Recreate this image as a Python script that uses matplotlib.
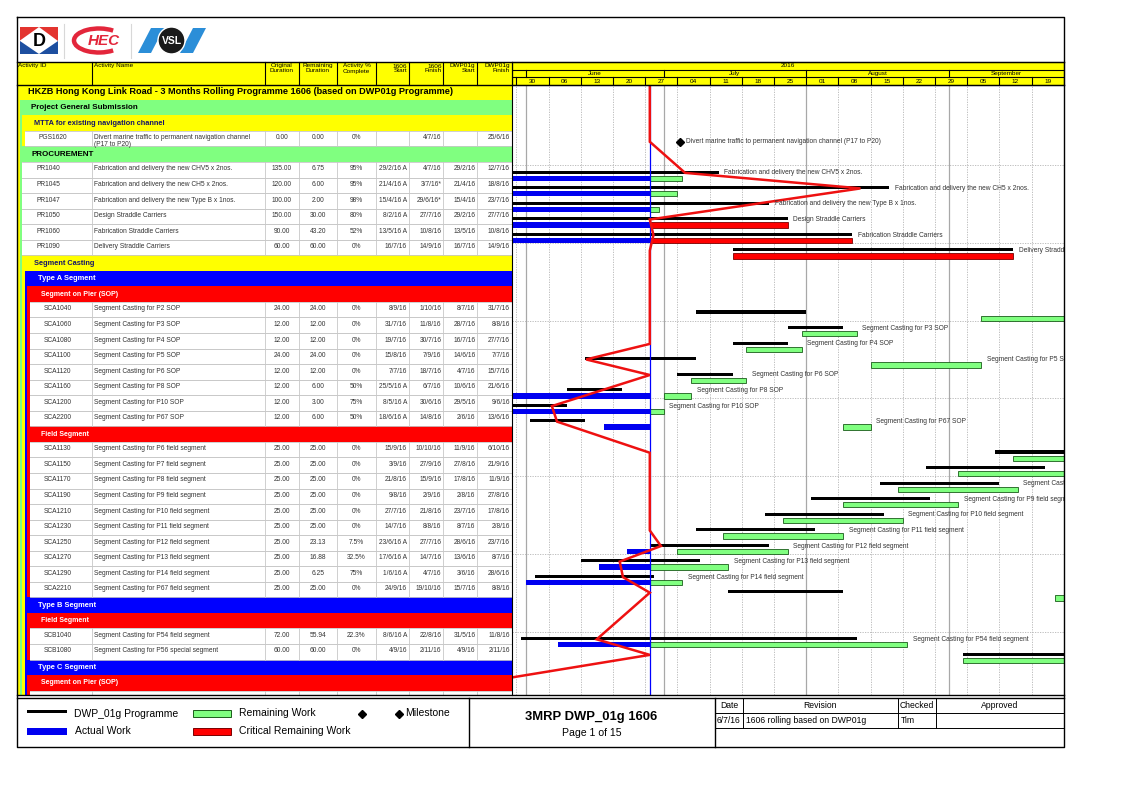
import textwrap
import pandas as pd
import matplotlib
matplotlib.use('Agg')
import matplotlib.pyplot as plt
import matplotlib.dates as mdates
from matplotlib.patches import Rectangle, Polygon, Circle, Arc

plt.rcParams['font.family'] = ['Liberation Sans', 'DejaVu Sans']

W, H = 1123, 793

# ---------------- data ----------------
data_date = '28/6/16'

# WBS bands: first row, last row covered, outline level, title
group_rows = [0, 1, 2, 4, 11, 12, 13, 22, 33, 34, 37, 38]
group_last = [39, 3, 3, 39, 39, 32, 21, 32, 36, 36, 39, 39]
group_levels = [0, 1, 2, 1, 2, 3, 4, 4, 3, 4, 3, 4]
group_names = ['HKZB Hong Kong Link Road - 3 Months Rolling Programme 1606 (based on DWP01g Programme)',
               'Project General Submission', 'MTTA for existing navigation channel', 'PROCUREMENT',
               'Segment Casting', 'Type A Segment', 'Segment on Pier (SOP)', 'Field Segment',
               'Type B Segment', 'Field Segment', 'Type C Segment', 'Segment on Pier (SOP)']
next_page_row = 39

act_rows = [3, 5, 6, 7, 8, 9, 10, 14, 15, 16, 17, 18, 19, 20, 21,
            23, 24, 25, 26, 27, 28, 29, 30, 31, 32, 35, 36]
act_ids = ['PGS1620', 'PR1040', 'PR1045', 'PR1047', 'PR1050', 'PR1060', 'PR1090',
           'SCA1040', 'SCA1060', 'SCA1080', 'SCA1100', 'SCA1120', 'SCA1160', 'SCA1200', 'SCA2200',
           'SCA1130', 'SCA1150', 'SCA1170', 'SCA1190', 'SCA1210', 'SCA1230', 'SCA1250', 'SCA1270',
           'SCA1290', 'SCA2210', 'SCB1040', 'SCB1080']
act_names = ['Divert marine traffic to permanent navigation channel (P17 to P20)',
             'Fabrication and delivery the new CHV5 x 2nos.',
             'Fabrication and delivery the new CH5 x 2nos.',
             'Fabrication and delivery the new Type B x 1nos.',
             'Design Straddle Carriers', 'Fabrication Straddle Carriers', 'Delivery Straddle Carriers',
             'Segment Casting for P2 SOP', 'Segment Casting for P3 SOP', 'Segment Casting for P4 SOP',
             'Segment Casting for P5 SOP', 'Segment Casting for P6 SOP', 'Segment Casting for P8 SOP',
             'Segment Casting for P10 SOP', 'Segment Casting for P67 SOP',
             'Segment Casting for P6 field segment', 'Segment Casting for P7 field segment',
             'Segment Casting for P8 field segment', 'Segment Casting for P9 field segment',
             'Segment Casting for P10 field segment', 'Segment Casting for P11 field segment',
             'Segment Casting for P12 field segment', 'Segment Casting for P13 field segment',
             'Segment Casting for P14 field segment', 'Segment Casting for P67 field segment',
             'Segment Casting for P54 field segment', 'Segment Casting for P56 special segment']
orig_dur = [0, 135, 120, 100, 150, 90, 60, 24, 12, 12, 24, 12, 12, 12, 12,
            25, 25, 25, 25, 25, 25, 25, 25, 25, 25, 72, 60]
rem_dur = [0, 6.75, 6, 2, 30, 43.2, 60, 24, 12, 12, 24, 12, 6, 3, 6,
           25, 25, 25, 25, 25, 25, 23.13, 16.88, 6.25, 25, 55.94, 60]
pct_complete = [0, 95, 95, 98, 80, 52, 0, 0, 0, 0, 0, 0, 50, 75, 50,
                0, 0, 0, 0, 0, 0, 7.5, 32.5, 75, 0, 22.3, 0]
start_1606 = ['', '29/2/16 A', '21/4/16 A', '15/4/16 A', '8/2/16 A', '13/5/16 A', '16/7/16',
              '8/9/16', '31/7/16', '19/7/16', '15/8/16', '7/7/16', '25/5/16 A', '8/5/16 A', '18/6/16 A',
              '15/9/16', '3/9/16', '21/8/16', '9/8/16', '27/7/16', '14/7/16', '23/6/16 A', '17/6/16 A',
              '1/6/16 A', '24/9/16', '8/6/16 A', '4/9/16']
finish_1606 = ['4/7/16', '4/7/16', '3/7/16*', '29/6/16*', '27/7/16', '10/8/16', '14/9/16',
               '1/10/16', '11/8/16', '30/7/16', '7/9/16', '18/7/16', '6/7/16', '30/6/16', '14/8/16',
               '10/10/16', '27/9/16', '15/9/16', '2/9/16', '21/8/16', '8/8/16', '27/7/16', '14/7/16',
               '4/7/16', '19/10/16', '22/8/16', '2/11/16']
start_dwp = ['', '29/2/16', '21/4/16', '15/4/16', '29/2/16', '13/5/16', '16/7/16',
             '8/7/16', '28/7/16', '16/7/16', '14/6/16', '4/7/16', '10/6/16', '29/5/16', '2/6/16',
             '11/9/16', '27/8/16', '17/8/16', '2/8/16', '23/7/16', '8/7/16', '28/6/16', '13/6/16',
             '3/6/16', '15/7/16', '31/5/16', '4/9/16']
finish_dwp = ['25/6/16', '12/7/16', '18/8/16', '23/7/16', '27/7/16', '10/8/16', '14/9/16',
              '31/7/16', '8/8/16', '27/7/16', '7/7/16', '15/7/16', '21/6/16', '9/6/16', '13/6/16',
              '6/10/16', '21/9/16', '11/9/16', '27/8/16', '17/8/16', '2/8/16', '23/7/16', '8/7/16',
              '28/6/16', '8/8/16', '11/8/16', '2/11/16']
milestones = ['PGS1620']
critical = ['PR1050', 'PR1060', 'PR1090']
resume_dates = {'SCA1160': '1/7/16', 'SCA2200': '9/8/16', 'SCA1250': '4/7/16'}

# progress line vertices
prog_rows = [3, 5, 6, 8, 9, 10, 16, 17, 18, 20, 21, 23, 28, 29, 30, 31, 32, 35, 36, 39]
prog_dates = ['2016-06-28', '2016-07-05 16:00', '2016-08-12 19:00', '2016-06-28', '2016-06-28 19:00',
              '2016-06-28', '2016-06-28', '2016-06-14 04:00', '2016-06-28', '2016-06-06 17:00',
              '2016-06-07 20:00', '2016-06-28', '2016-06-28', '2016-06-30 10:00', '2016-06-21 11:00',
              '2016-06-22 04:00', '2016-06-28', '2016-06-16 11:00', '2016-06-28', '2016-04-27']

col_headers = ['Activity ID', 'Activity Name', 'Original\nDuration', 'Remaining\nDuration',
               'Activity %\nComplete', '1606\nStart', '1606\nFinish', 'DWP01g\nStart', 'DWP01g\nFinish']


def day(s):
    s = s.replace(' A', '').rstrip('*')
    return mdates.date2num(pd.to_datetime(s, format='%d/%m/%y'))


# ---------------- layout ----------------
YELLOW, GREEN, BLUE, RED = '#ffff00', '#80ff80', '#0000ff', '#ff0000'
band_colors = [YELLOW, GREEN, YELLOW, BLUE, RED]
band_text = ['black', 'black', '#15156a', 'white', 'white']
band_size = [6.6, 5.8, 5.3, 5.4, 5.0]
TXT = '#333333'
fs = 4.8

fig = plt.figure(figsize=(W / 100, H / 100), dpi=100)


def px_axes(x0, y0, x1, y1):
    return fig.add_axes([x0 / W, 1 - y1 / H, (x1 - x0) / W, (y1 - y0) / H])


ROW_TOP, ROW_BOT = -0.45, 38.78

# table body
tab = px_axes(17, 85, 512, 695)
tab.set_xlim(17, 512)
tab.set_ylim(ROW_BOT, ROW_TOP)
tab.axis('off')

lx = lambda lvl: 17 + 2.6 * lvl
for r, last, lvl, name in sorted(zip(group_rows, group_last, group_levels, group_names), key=lambda t: t[2]):
    tab.add_patch(Rectangle((lx(lvl), r - 0.5), 512 - lx(lvl), last - r + 1,
                            fc=band_colors[lvl], ec='none', zorder=1 + lvl * 0.1))
for r, lvl, name in zip(group_rows, group_levels, group_names):
    tab.text(28 + 3.2 * lvl, r, name, fontsize=band_size[lvl], fontweight='bold',
             color=band_text[lvl], va='center', zorder=4)


def parent_level(r):
    return max(l for g, last, l in zip(group_rows, group_last, group_levels) if g <= r <= last)


col_bounds = [92, 265, 299, 337, 376, 409, 443, 477]
for r in act_rows + [next_page_row]:
    x0 = lx(parent_level(r) + 1)
    tab.add_patch(Rectangle((x0, r - 0.5), 512 - x0, 1, fc='white', ec='none', zorder=2))
    tab.plot([x0, 512], [r + 0.5, r + 0.5], color='#c8c8c8', lw=0.6, zorder=3)
    tab.plot([x0, 512], [r - 0.5, r - 0.5], color='#c8c8c8', lw=0.6, zorder=3)
    for cx in col_bounds:
        tab.plot([cx, cx], [r - 0.5, r + 0.5], color='#c8c8c8', lw=0.6, zorder=3)

for k, r in enumerate(act_rows):
    x0 = lx(parent_level(r) + 1)
    yy = r - 0.05
    name = textwrap.fill(act_names[k], 54)
    tab.text(x0 + 14, yy, act_ids[k], fontsize=fs, color=TXT, va='center', zorder=4)
    tab.text(94, yy + (0.18 if '\n' in name else 0), name, fontsize=fs, color=TXT,
             va='center', linespacing=1.0, zorder=4)
    tab.text(282, yy, f'{orig_dur[k]:.2f}', fontsize=fs, color=TXT, va='center', ha='center', zorder=4)
    tab.text(318, yy, f'{rem_dur[k]:.2f}', fontsize=fs, color=TXT, va='center', ha='center', zorder=4)
    tab.text(356.5, yy, f'{pct_complete[k]:g}%', fontsize=fs, color=TXT, va='center', ha='center', zorder=4)
    for cx, col in zip([407, 441.5, 475.5, 510], [start_1606, finish_1606, start_dwp, finish_dwp]):
        tab.text(cx, yy, col[k], fontsize=fs, color=TXT, va='center', ha='right', zorder=4)

# gantt
dd = day(data_date)
x_left, x_right = dd - 29.957, dd + 90.04
gan = px_axes(512, 85, 1064, 695)
gan.set_xlim(x_left, x_right)
gan.set_ylim(ROW_BOT, ROW_TOP)
gan.axis('off')

mondays = mdates.date2num(pd.date_range('2016-05-30', '2016-09-26', freq='W-MON'))
month_starts = mdates.date2num(pd.date_range('2016-06-01', '2016-09-01', freq='MS'))
for m in mondays:
    if m not in month_starts:
        gan.axvline(m, color='#b4b4b4', lw=0.6, ls=(0, (1.5, 1.5)), zorder=0)
for m in month_starts:
    gan.axvline(m, color='#a8a8a8', lw=0.9, zorder=0)
for r in range(4, 38, 5):
    gan.axhline(r + 0.7, color='#b4b4b4', lw=0.6, ls=(0, (1.5, 1.5)), zorder=0)

for k, r in enumerate(act_rows):
    fin = day(finish_1606[k]) + 1
    if act_ids[k] in milestones:
        end = fin - 0.5
        gan.plot(end, r + 0.2, marker='D', ms=3.6, color='black', zorder=5)
        off = 4.5
    else:
        bs, bf = day(start_dwp[k]), day(finish_dwp[k]) + 1
        gan.barh(r + 0.15, bf - bs, left=bs, height=0.2, color='black', zorder=2)
        cs = day(start_1606[k])
        rs = cs
        if start_1606[k].endswith('A'):
            gan.barh(r + 0.55, dd - cs, left=cs, height=0.34, color='#0000f0', zorder=2)
            rs = dd
        if act_ids[k] in resume_dates:
            rs = day(resume_dates[act_ids[k]])
        crit = act_ids[k] in critical
        gan.barh(r + 0.55, fin - rs, left=rs, height=0.34, color=RED if crit else GREEN,
                 edgecolor='#7a0000' if crit else '#1a5c1a', lw=0.6, zorder=2)
        end = max(bf, fin)
        off = 4
    t = gan.annotate(act_names[k], (end, r + 0.2), xytext=(off, 0), textcoords='offset points',
                     va='center', fontsize=fs, color=TXT, zorder=6)
    t.set_clip_box(gan.bbox)

gan.axvline(dd, color='#0000ff', lw=0.9, zorder=3)
px = [dd] + [mdates.date2num(pd.Timestamp(d)) for d in prog_dates]
py = [ROW_TOP] + [r + 0.2 for r in prog_rows]
gan.plot(px, py, color='#ee1111', lw=1.8, solid_joinstyle='miter', zorder=4)

# timescale header
tim = px_axes(512, 62, 1064, 85)
tim.set_xlim(x_left, x_right)
tim.set_ylim(0, 3)
tim.set_facecolor(YELLOW)
tim.set_xticks([])
tim.set_yticks([])
for s in tim.spines.values():
    s.set_color('black')
    s.set_linewidth(0.8)
tim.axhline(1, color='black', lw=0.8)
tim.axhline(2, color='black', lw=0.8)
tim.text((x_left + x_right) / 2, 2.5, '2016', fontsize=4.6, ha='center', va='center')
edges = [x_left] + list(month_starts) + [x_right]
for a, b, lab in zip(edges[:-1], edges[1:], ['May', 'June', 'July', 'August', 'September']):
    if b - a > 10:
        tim.text((a + b) / 2, 1.5, lab, fontsize=4.6, ha='center', va='center')
for m in month_starts:
    tim.plot([m, m], [1, 2], color='black', lw=0.8)
for m, d in zip(mondays, pd.date_range('2016-05-30', '2016-09-26', freq='W-MON')):
    tim.plot([m, m], [0, 1], color='black', lw=0.8)
    if m + 3.5 < x_right:
        tim.text(m + 3.5, 0.5, f'{d.day:02d}', fontsize=4.6, ha='center', va='center')

# page: header, logos, frame, footer
page = px_axes(0, 0, W, H)
page.set_xlim(0, W)
page.set_ylim(H, 0)
page.axis('off')
page.set_zorder(5)

page.add_patch(Rectangle((17, 62), 495, 23, fc=YELLOW, ec='none'))
for cx in col_bounds + [512]:
    page.plot([cx, cx], [62, 85], color='black', lw=0.8)
hdr_x = [18, 94, 282, 318, 356.5, 407, 441.5, 475.5, 510]
hdr_ha = ['left', 'left', 'center', 'center', 'center', 'right', 'right', 'right', 'right']
for x, ha, lab in zip(hdr_x, hdr_ha, col_headers):
    page.text(x, 63.5, lab, fontsize=4.6, ha=ha, va='top', linespacing=1.0, multialignment=ha)

page.plot([17, 1064], [62, 62], color='black', lw=1)
page.plot([17, 1064], [85, 85], color='black', lw=1)
page.plot([512, 512], [62, 695], color='black', lw=0.8)
page.plot([17, 1064], [695, 695], color='black', lw=1)
page.plot([17, 1064], [697.5, 697.5], color='black', lw=1)
page.plot([17, 1064, 1064, 17, 17], [17, 17, 747, 747, 17], color='black', lw=1)

# logos
page.add_patch(Polygon([(20, 27), (39, 27), (20, 40.5)], fc='#e3342f', ec='none'))
page.add_patch(Polygon([(39, 27), (58, 27), (58, 40.5)], fc='#e3342f', ec='none'))
page.add_patch(Polygon([(20, 40.5), (20, 54), (39, 54)], fc='#1d4fa0', ec='none'))
page.add_patch(Polygon([(58, 40.5), (58, 54), (39, 54)], fc='#1d4fa0', ec='none'))
page.text(39, 41, 'D', fontsize=13, fontweight='bold', ha='center', va='center')
page.plot([64, 64], [24, 58], color='#d8d8d8', lw=0.8)
page.add_patch(Arc((99, 40.5), 50, 24, theta1=35, theta2=325, color='#e3263b', lw=3.2))
page.text(104, 41, 'HEC', fontsize=11, fontweight='bold', fontstyle='italic', color='#e3263b',
          ha='center', va='center')
page.plot([131, 131], [24, 58], color='#d8d8d8', lw=0.8)
page.add_patch(Polygon([(138, 53), (151, 28), (164, 28), (151, 53)], fc='#2b8ed8', ec='none'))
page.add_patch(Polygon([(180, 53), (193, 28), (206, 28), (193, 53)], fc='#2b8ed8', ec='none'))
page.add_patch(Circle((171.5, 40.5), 13.5, fc='#1a1a1a', ec='white', lw=1))
page.text(171.5, 41, 'VSL', fontsize=7.5, fontweight='bold', color='white', ha='center', va='center')

# footer legend
page.add_patch(Rectangle((27, 709.5), 40, 3.5, fc='black', ec='none'))
page.text(74, 714, 'DWP_01g Programme', fontsize=7.5, va='center')
page.add_patch(Rectangle((192.5, 709.5), 38.5, 7, fc=GREEN, ec='#1a5c1a', lw=0.7))
page.text(239, 713.5, 'Remaining Work', fontsize=7.5, va='center')
page.plot([362], [713.5], marker='D', ms=4, color='black')
page.plot([399], [713.5], marker='D', ms=4, color='black')
page.text(405, 713.5, 'Milestone', fontsize=7.5, va='center')
page.add_patch(Rectangle((27, 727.5), 40, 7, fc='#0000f0', ec='none'))
page.text(75, 731, 'Actual Work', fontsize=7.5, va='center')
page.add_patch(Rectangle((192.5, 727.5), 38.5, 7, fc=RED, ec='#7a0000', lw=0.7))
page.text(239, 731, 'Critical Remaining Work', fontsize=7.5, va='center')

page.plot([469, 469], [697.5, 747], color='black', lw=1)
page.plot([715, 715], [697.5, 747], color='black', lw=1)
page.text(591, 717, '3MRP DWP_01g 1606', fontsize=9.4, fontweight='bold', ha='center', va='center')
page.text(592, 733, 'Page 1 of 15', fontsize=7.6, ha='center', va='center')

page.plot([715, 1064], [713, 713], color='black', lw=0.7)
page.plot([715, 1064], [728, 728], color='black', lw=0.7)
for cx in [743, 898, 936]:
    page.plot([cx, cx], [697.5, 728], color='black', lw=0.7)
for x, lab in zip([729, 820, 917, 1000], ['Date', 'Revision', 'Checked', 'Approved']):
    page.text(x, 705.5, lab, fontsize=6.2, ha='center', va='center')
for x, lab in zip([717, 746, 901], ['6/7/16', '1606 rolling based on DWP01g', 'Tim']):
    page.text(x, 720.5, lab, fontsize=6.2, ha='left', va='center')

fig.savefig('out.png', dpi=100)
